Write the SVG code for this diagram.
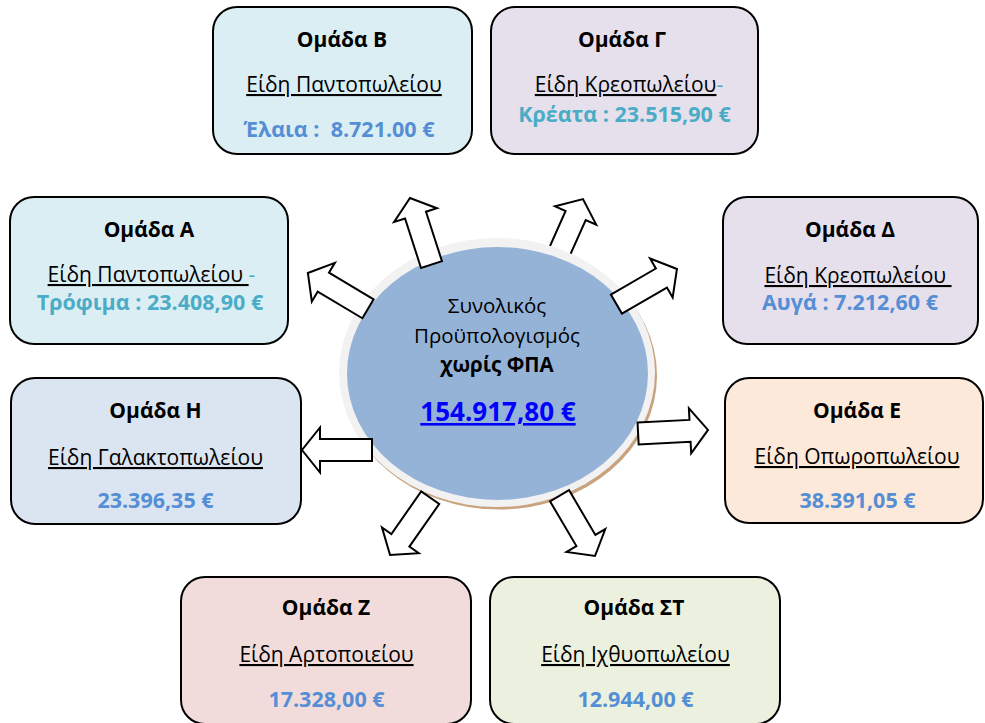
<svg xmlns="http://www.w3.org/2000/svg" width="985" height="723" viewBox="0 0 985 723">
<style>
text{font-family:"Open Sans","Noto Sans","Liberation Sans",sans-serif;text-anchor:middle;fill:#000}
.t{font-weight:bold;font-size:21px}
.s{font-size:21px}
.v{font-weight:bold;font-size:21.5px;fill:#558ed5}
.tl{fill:#4bacc6}
.u{text-decoration:underline}
.box{stroke:#000;stroke-width:2}
.arr{fill:#fff;stroke:#000;stroke-width:2;stroke-linejoin:miter}
.c{font-size:20.5px}
</style>
<defs>
<path id="arrow" d="M0,-11 H52 V-22.5 L70,0 L52,22.5 V11 H0 Z"/>
</defs>
<rect width="985" height="723" fill="#fff"/>
<g id="connectors-back">
<use href="#arrow" class="arr" transform="translate(554.5,263) rotate(-66)"/>
</g>
<g id="center">
<ellipse cx="499" cy="375.5" rx="158" ry="134" fill="#c9a27e"/>
<ellipse cx="497" cy="372.5" rx="158" ry="134.5" fill="#f2f2f2"/>
<ellipse cx="497.5" cy="373.5" rx="150.5" ry="126.5" fill="#95b3d7"/>
<text class="c" x="497" y="313">Συνολικός</text>
<text class="c" x="497" y="343">Προϋπολογισμός</text>
<text class="c" x="497" y="372" font-weight="bold">χωρίς ΦΠΑ</text>
<text x="498" y="421" font-size="26" font-weight="bold" style="fill:#0000ff" text-decoration="underline">154.917,80 €</text>
</g>
<g id="connectors">
<use href="#arrow" class="arr" transform="translate(431.5,264.6) rotate(-107.9)"/>
<use href="#arrow" class="arr" transform="translate(368,308.8) rotate(-149.2)"/>
<use href="#arrow" class="arr" transform="translate(616.4,304.1) rotate(-30.1)"/>
<use href="#arrow" class="arr" transform="translate(638.1,433.5) rotate(-2.9)"/>
<use href="#arrow" class="arr" transform="translate(372,450) rotate(180)"/>
<use href="#arrow" class="arr" transform="translate(430.2,497.7) rotate(125)"/>
<use href="#arrow" class="arr" transform="translate(559.5,495.7) rotate(59.5)"/>
</g>
<g id="groupB">
<rect class="box" x="213" y="7" width="259" height="147" rx="24" fill="#dbeef4"/>
<text class="t" x="342" y="47">Ομάδα Β</text>
<text class="s u" x="344" y="92">Είδη Παντοπωλείου</text>
<text class="v" x="339" y="137" xml:space="preserve">Έλαια :  8.721.00 €</text>
</g>
<g id="groupG">
<rect class="box" x="491" y="7" width="267" height="147" rx="24" fill="#e5e0ec"/>
<text class="t" x="622" y="47">Ομάδα Γ</text>
<text class="s" x="629" y="92"><tspan class="u">Είδη Κρεοπωλείου</tspan><tspan class="tl">-</tspan></text>
<text class="v tl" x="624.5" y="122">Κρέατα : 23.515,90 €</text>
</g>
<g id="groupA">
<rect class="box" x="10" y="197" width="278" height="147" rx="24" fill="#dbeef4"/>
<text class="t" x="149" y="237">Ομάδα Α</text>
<text class="s" x="151.5" y="282" xml:space="preserve"><tspan class="u">Είδη Παντοπωλείου </tspan><tspan class="tl">-</tspan></text>
<text class="v tl" x="150" y="310">Τρόφιμα : 23.408,90 €</text>
</g>
<g id="groupD">
<rect class="box" x="723" y="197" width="255" height="147" rx="24" fill="#e5e0ec"/>
<text class="t" x="850" y="237">Ομάδα Δ</text>
<text class="s u" x="858" y="283" xml:space="preserve">Είδη Κρεοπωλείου </text>
<text class="v" x="850" y="310">Αυγά : 7.212,60 €</text>
</g>
<g id="groupH">
<rect class="box" x="11" y="378" width="290" height="146" rx="24" fill="#dbe5f1"/>
<text class="t" x="155.5" y="418">Ομάδα Η</text>
<text class="s u" x="155.5" y="465">Είδη Γαλακτοπωλείου</text>
<text class="v" x="155.5" y="508">23.396,35 €</text>
</g>
<g id="groupE">
<rect class="box" x="725" y="378" width="258" height="145" rx="24" fill="#fde9d9"/>
<text class="t" x="857" y="418">Ομάδα Ε</text>
<text class="s u" x="857" y="464">Είδη Οπωροπωλείου</text>
<text class="v" x="857.5" y="508">38.391,05 €</text>
</g>
<g id="groupZ">
<rect class="box" x="181" y="577" width="290" height="147" rx="24" fill="#f2dcdb"/>
<text class="t" x="326" y="615">Ομάδα Ζ</text>
<text class="s u" x="326.5" y="662">Είδη Αρτοποιείου</text>
<text class="v" x="326.5" y="707">17.328,00 €</text>
</g>
<g id="groupST">
<rect class="box" x="490" y="577" width="290" height="147" rx="24" fill="#ebf1de"/>
<text class="t" x="634" y="615">Ομάδα ΣΤ</text>
<text class="s u" x="635.5" y="662">Είδη Ιχθυοπωλείου</text>
<text class="v" x="635.5" y="707">12.944,00 €</text>
</g>
</svg>
